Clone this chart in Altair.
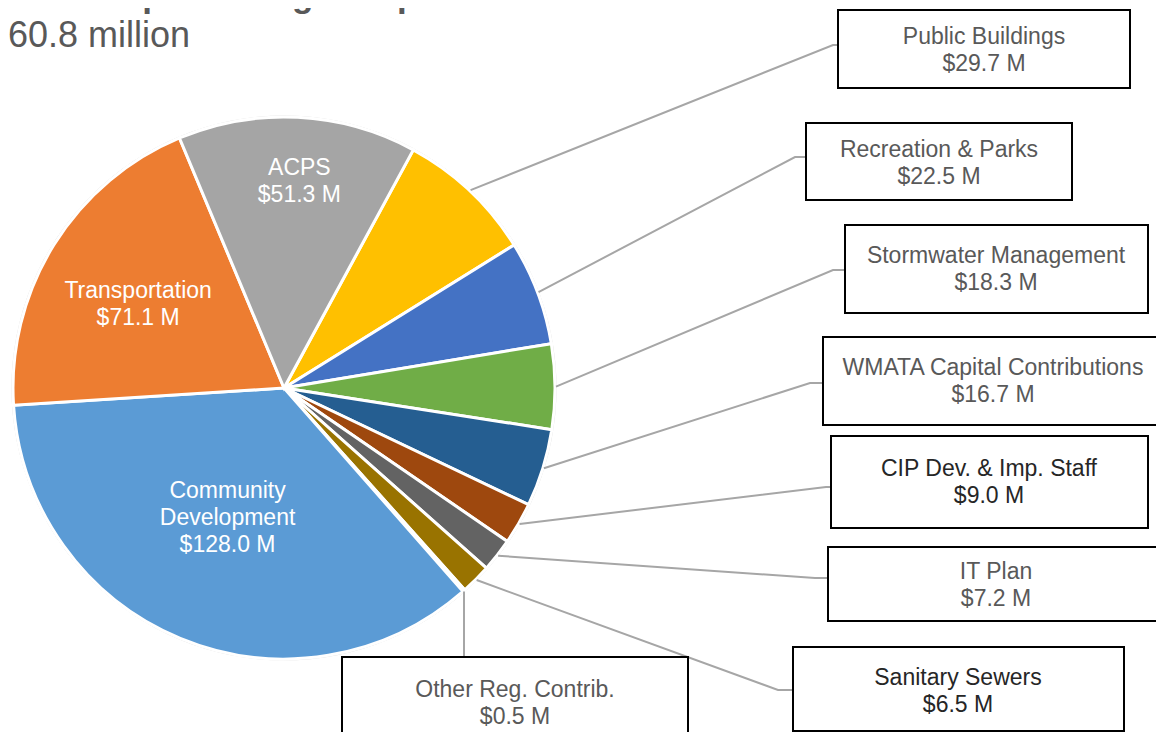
import math
import altair as alt
import pandas as pd

# ---------------- data ----------------
categories = [
    "Public Buildings", "Recreation & Parks", "Stormwater Management",
    "WMATA Capital Contributions", "CIP Dev. & Imp. Staff", "IT Plan",
    "Sanitary Sewers", "Other Reg. Contrib.", "Community Development",
    "Transportation", "ACPS",
]
values = [29.7, 22.5, 18.3, 16.7, 9.0, 7.2, 6.5, 0.5, 128.0, 71.1, 51.3]
colors = [
    "#FFC000", "#4472C4", "#70AD47", "#255E91", "#9E480E", "#636363",
    "#997300", "#264478", "#5B9BD5", "#ED7D31", "#A5A5A5",
]
title_text = "FY 2024 Capital Budget Expenditures"
subtitle_text = "$360.8 million"

# ---------------- layout (reference pixel coords) ----------------
OFF = 8                      # page margin
W, H = 1148, 724
CX, CY, R = 284 - OFF, 388 - OFF, 271
START_DEG = 28.5             # first slice (Public Buildings) starts here
FS, LH = 23, 27

# callout boxes for the first 8 slices
box_x0 = [838, 806, 845, 823, 831, 828, 793, 342]
box_x1 = [1130, 1072, 1148, 1170, 1148, 1170, 1124, 688]
box_y0 = [10, 123, 225, 337, 436, 547, 647, 657]
box_y1 = [88, 200, 313, 425, 528, 621, 731, 760]
elbow_x = [833, 795, 833, 810, 826, 815, 778, 464]
elbow_y = [45, 157, 270, 383, 487, 578, 690, 657]
box_text_colors = ["#595959", "#595959", "#595959", "#595959", "#262626",
                   "#595959", "#262626", "#595959"]
# visible centre of each box's text block (boxes cut by the picture edge)
text_cx = [984, 939, 996, 993, 989, 996, 958, 515]
text_cy = [50, 163, 269, 381, 482, 585, 691, 703]

# inner labels: slice name -> (text, radius from centre, angle tweak in deg)
inner_labels = {
    "ACPS": ("ACPS\n$51.3 M", 207, 1.35),
    "Transportation": ("Transportation\n$71.1 M", 168, -2.1),
    "Community Development": ("Community\nDevelopment\n$128.0 M", 142, 0.9),
}

total = sum(values)
start = math.radians(START_DEG)

# slice mid angles (clockwise from 12 o'clock)
mids = []
acc = 0.0
for v in values:
    mids.append(start + 2 * math.pi * (acc + v / 2) / total)
    acc += v


def polar(a, r):
    return CX + r * math.sin(a), CY - r * math.cos(a)


pie_df = pd.DataFrame({"cat": categories, "value": values,
                       "idx": list(range(len(categories)))})

# leader lines
line_rows = []
for i in range(8):
    sx, sy = polar(mids[i], R + 1)
    ex, ey = elbow_x[i] - OFF, elbow_y[i] - OFF
    if i == 7:
        tx, ty = ex, box_y0[i] - OFF
        sx = ex
    else:
        tx, ty = box_x0[i] - OFF, ey
    for step, (px, py) in enumerate([(sx, sy), (ex, ey), (tx, ty)]):
        line_rows.append({"cat": categories[i], "step": step, "x": px, "y": py})
line_df = pd.DataFrame(line_rows)

labels = [f"{c}\n${v:.1f} M" for c, v in zip(categories[:8], values[:8])]
box_df = pd.DataFrame({
    "cat": categories[:8],
    "x0": [v - OFF for v in box_x0], "x1": [v - OFF for v in box_x1],
    "y0": [v - OFF for v in box_y0], "y1": [v - OFF for v in box_y1],
    "tx": [v - OFF for v in text_cx],
    "ty": [v - OFF - (lab.count("\n")) * LH / 2 for v, lab in zip(text_cy, labels)],
    "label": labels,
    "tc": box_text_colors,
})

inner_rows = []
for name, (txt, rr, tweak) in inner_labels.items():
    i = categories.index(name)
    px, py = polar(mids[i] + math.radians(tweak), rr)
    inner_rows.append({"x": px, "y": py - txt.count("\n") * LH / 2, "label": txt})
inner_df = pd.DataFrame(inner_rows)

title_df = pd.DataFrame({"x": [576 - OFF], "y": [7 - OFF], "label": [title_text]})
subtitle_df = pd.DataFrame({"x": [190 - OFF], "y": [47 - OFF], "label": [subtitle_text]})

xs = alt.Scale(domain=[0, W], range=[0, W])
ys = alt.Scale(domain=[0, H], range=[0, H])
FONT = "Liberation Sans"

ring = alt.Chart(pd.DataFrame({"a": [0]})).mark_point(
    shape="circle", size=(2 * R + 2) ** 2, filled=False,
    stroke="#d9d9d9", strokeWidth=1, opacity=1,
).encode(x=alt.value(CX), y=alt.value(CY))

pie = alt.Chart(pie_df).mark_arc(
    outerRadius=R, stroke="white", strokeWidth=3
).encode(
    theta=alt.Theta("value:Q", stack=True,
                    scale=alt.Scale(domain=[0, total], range=[start, start + 2 * math.pi])),
    color=alt.Color("cat:N", scale=alt.Scale(domain=categories, range=colors), legend=None),
    order=alt.Order("idx:Q"),
    x=alt.value(CX), y=alt.value(CY),
)

lines = alt.Chart(line_df).mark_line(color="#A6A6A6", strokeWidth=2).encode(
    x=alt.X("x:Q", scale=xs, axis=None),
    y=alt.Y("y:Q", scale=ys, axis=None),
    detail="cat:N",
    order="step:Q",
)

boxes = alt.Chart(box_df).mark_rect(fill="white", stroke="black", strokeWidth=2).encode(
    x=alt.X("x0:Q", scale=xs, axis=None), x2="x1:Q",
    y=alt.Y("y0:Q", scale=ys, axis=None), y2="y1:Q",
)

box_text = alt.Chart(box_df).mark_text(
    font=FONT, fontSize=FS, lineBreak="\n", lineHeight=LH,
    align="center", baseline="middle",
).encode(
    x=alt.X("tx:Q", scale=xs, axis=None),
    y=alt.Y("ty:Q", scale=ys, axis=None),
    text="label:N",
    color=alt.Color("tc:N", scale=None),
)

inner_text = alt.Chart(inner_df).mark_text(
    font=FONT, fontSize=FS, lineBreak="\n", lineHeight=LH,
    align="center", baseline="middle", color="white",
).encode(
    x=alt.X("x:Q", scale=xs, axis=None),
    y=alt.Y("y:Q", scale=ys, axis=None),
    text="label:N",
)

title = alt.Chart(title_df).mark_text(
    font=FONT, fontSize=35, fontWeight="bold", align="right",
    baseline="alphabetic", color="#595959",
).encode(
    x=alt.X("x:Q", scale=xs, axis=None),
    y=alt.Y("y:Q", scale=ys, axis=None),
    text="label:N",
)

subtitle = alt.Chart(subtitle_df).mark_text(
    font=FONT, fontSize=36, align="right", baseline="alphabetic", color="#595959",
).encode(
    x=alt.X("x:Q", scale=xs, axis=None),
    y=alt.Y("y:Q", scale=ys, axis=None),
    text="label:N",
)

chart = alt.layer(ring, pie, lines, boxes, box_text, inner_text, title, subtitle).properties(
    width=W, height=H,
    autosize=alt.AutoSizeParams(type="none"),
    padding=0,
).configure_view(stroke=None)

chart.save("out.html", embed_options={"renderer": "svg", "actions": False})
